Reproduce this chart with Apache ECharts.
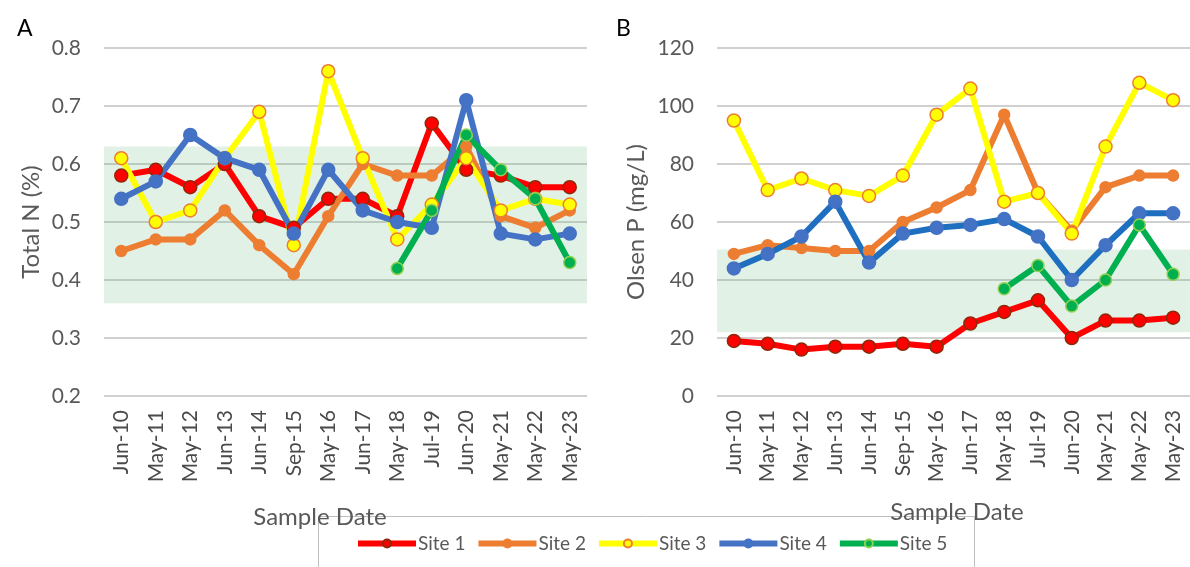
<!DOCTYPE html>
<html>
<head>
<meta charset="utf-8">
<script src="https://cdn.jsdelivr.net/npm/echarts@6/dist/echarts.min.js"></script>
<style>
  html, body { margin: 0; padding: 0; background: #ffffff; }
  #chart { width: 1190px; height: 567px; }
</style>
</head>
<body>
<div id="chart"></div>
<script>
// Sampling dates (x axis categories, shared by both panels)
const categories = ['Jun-10', 'May-11', 'May-12', 'Jun-13', 'Jun-14', 'Sep-15', 'May-16',
  'Jun-17', 'May-18', 'Jul-19', 'Jun-20', 'May-21', 'May-22', 'May-23'];

const siteNames = ['Site 1', 'Site 2', 'Site 3', 'Site 4', 'Site 5'];

// Panel A: Total N (%)
const totalN_site1 = [0.58, 0.59, 0.56, 0.60, 0.51, 0.49, 0.54, 0.54, 0.51, 0.67, 0.59, 0.58, 0.56, 0.56];
const totalN_site2 = [0.45, 0.47, 0.47, 0.52, 0.46, 0.41, 0.51, 0.60, 0.58, 0.58, 0.63, 0.51, 0.49, 0.52];
const totalN_site3 = [0.61, 0.50, 0.52, 0.61, 0.69, 0.46, 0.76, 0.61, 0.47, 0.53, 0.61, 0.52, 0.54, 0.53];
const totalN_site4 = [0.54, 0.57, 0.65, 0.61, 0.59, 0.48, 0.59, 0.52, 0.50, 0.49, 0.71, 0.48, 0.47, 0.48];
const totalN_site5 = [null, null, null, null, null, null, null, null, 0.42, 0.52, 0.65, 0.59, 0.54, 0.43];

// Panel B: Olsen P (mg/L)
const olsenP_site1 = [19, 18, 16, 17, 17, 18, 17, 25, 29, 33, 20, 26, 26, 27];
const olsenP_site2 = [49, 52, 51, 50, 50, 60, 65, 71, 97, 70, 57, 72, 76, 76];
const olsenP_site3 = [95, 71, 75, 71, 69, 76, 97, 106, 67, 70, 56, 86, 108, 102];
const olsenP_site4 = [44, 49, 55, 67, 46, 56, 58, 59, 61, 55, 40, 52, 63, 63];
const olsenP_site5 = [null, null, null, null, null, null, null, null, 37, 45, 31, 40, 59, 42];

// Target ranges (shaded bands)
const totalN_range = [0.36, 0.63];
const olsenP_range = [22, 50.5];

// Axis ticks
const totalN_ticks = { min: 0.2, max: 0.8, interval: 0.1 };
const olsenP_ticks = { min: 0, max: 120, interval: 20 };

const FONT = 'Lato, "Liberation Sans", sans-serif';
const GREY = '#595959';

const siteStyles = [
  { line: '#FF0000', fill: '#FF0000', border: '#8B2A0A', size: 13 },
  { line: '#ED7D31', fill: '#ED7D31', border: '#ED7D31', size: 11 },
  { line: '#FFFF00', fill: '#FFFF00', border: '#ED7D31', size: 13 },
  { line: '#4472C4', fill: '#4472C4', border: '#4472C4', size: 13 },
  { line: '#00B050', fill: '#00B050', border: '#92D050', size: 12 }
];

function makeSeries(dataSets, axisIndex, range, blueLine) {
  return dataSets.map((data, i) => {
    const st = siteStyles[i];
    const s = {
      name: siteNames[i],
      type: 'line',
      xAxisIndex: axisIndex,
      yAxisIndex: axisIndex,
      data: data,
      symbol: 'circle',
      symbolSize: st.size,
      lineStyle: { color: (i === 3 && blueLine) ? blueLine : st.line, width: 6 },
      itemStyle: { color: st.fill, borderColor: st.border, borderWidth: 1.5 },
      emphasis: { disabled: true },
      connectNulls: false
    };
    if (i === 0) {
      s.markArea = {
        silent: true,
        itemStyle: { color: 'rgba(112,185,130,0.2)' },
        data: [[{ yAxis: range[0] }, { yAxis: range[1] }]]
      };
    }
    return s;
  });
}

function xAxisFor(idx) {
  return {
    type: 'category',
    gridIndex: idx,
    data: categories,
    boundaryGap: true,
    axisLine: { show: false },
    axisTick: { show: false },
    axisLabel: { rotate: 90, fontSize: 21, color: '#4a4a4a', fontFamily: FONT, margin: 14, interval: 0 }
  };
}

function yAxisFor(idx, ticks, decimals) {
  return {
    type: 'value',
    gridIndex: idx,
    min: ticks.min, max: ticks.max, interval: ticks.interval,
    axisLine: { show: false },
    axisTick: { show: false },
    splitLine: { lineStyle: { color: '#D0D0D0', width: 2 } },
    axisLabel: {
      fontSize: 21, color: GREY, fontFamily: FONT, margin: 23,
      formatter: v => v.toFixed(decimals)
    }
  };
}

const chart = echarts.init(document.getElementById('chart'), null, { renderer: 'canvas' });

chart.setOption({
  animation: false,
  backgroundColor: '#ffffff',
  textStyle: { fontFamily: FONT },
  grid: [
    { left: 104, top: 48, width: 483, height: 348 },
    { left: 717, top: 48, width: 483, height: 348 }
  ],
  xAxis: [xAxisFor(0), xAxisFor(1)],
  yAxis: [yAxisFor(0, totalN_ticks, 1), yAxisFor(1, olsenP_ticks, 0)],
  legend: {
    data: siteNames,
    left: 350,
    top: 529,
    itemWidth: 58,
    itemHeight: 10,
    itemGap: 10,
    lineStyle: { width: 6 },
    textStyle: { fontSize: 19, color: GREY, fontFamily: FONT, padding: [0, 0, 0, -3] }
  },
  graphic: [
    { type: 'rect', shape: { x: 318.5, y: 516.5, width: 656, height: 70 },
      style: { fill: 'none', stroke: '#BFBFBF', lineWidth: 1 }, z: -1 },
    { type: 'text', left: 17, top: 17, style: { text: 'A', fontSize: 23, fill: '#000', fontFamily: FONT } },
    { type: 'text', left: 616, top: 17, style: { text: 'B', fontSize: 23, fill: '#000', fontFamily: FONT } },
    { type: 'text', x: 31, y: 222, rotation: Math.PI / 2,
      style: { text: 'Total N (%)', fontSize: 24, fill: GREY, fontFamily: FONT, align: 'center', verticalAlign: 'middle' } },
    { type: 'text', x: 636, y: 222, rotation: Math.PI / 2,
      style: { text: 'Olsen P (mg/L)', fontSize: 24, fill: GREY, fontFamily: FONT, align: 'center', verticalAlign: 'middle' } },
    { type: 'text', x: 320, y: 517,
      style: { text: 'Sample Date', fontSize: 24, fill: GREY, fontFamily: FONT, align: 'center', verticalAlign: 'middle' } },
    { type: 'text', x: 957, y: 512,
      style: { text: 'Sample Date', fontSize: 24, fill: GREY, fontFamily: FONT, align: 'center', verticalAlign: 'middle' } }
  ],
  series: [
    ...makeSeries([totalN_site1, totalN_site2, totalN_site3, totalN_site4, totalN_site5], 0, totalN_range, null),
    ...makeSeries([olsenP_site1, olsenP_site2, olsenP_site3, olsenP_site4, olsenP_site5], 1, olsenP_range, '#1F6FC0')
  ]
});
</script>
</body>
</html>
